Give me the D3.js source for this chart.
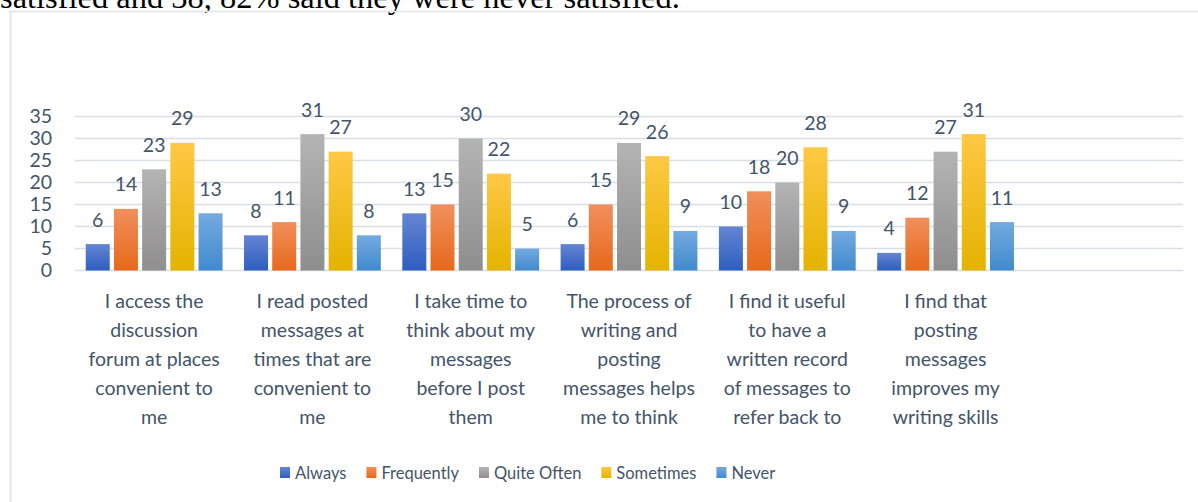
<!DOCTYPE html>
<html>
<head>
<meta charset="utf-8">
<script src="https://cdnjs.cloudflare.com/ajax/libs/d3/7.8.5/d3.min.js"></script>
<style>
  html, body { margin: 0; padding: 0; background: #fff; }
  svg { display: block; }
</style>
</head>
<body>
<div id="chart"></div>
<script>
var categories = [
  'I access the\ndiscussion\nforum at places\nconvenient to\nme',
  'I read posted\nmessages at\ntimes that are\nconvenient to\nme',
  'I take time to\nthink about my\nmessages\nbefore I post\nthem',
  'The process of\nwriting and\nposting\nmessages helps\nme to think',
  'I find it useful\nto have a\nwritten record\nof messages to\nrefer back to',
  'I find that\nposting\nmessages\nimproves my\nwriting skills'
];
var seriesNames = ['Always', 'Frequently', 'Quite Often', 'Sometimes', 'Never'];
var always     = [6, 8, 13, 6, 10, 4];
var frequently = [14, 11, 15, 15, 18, 12];
var quiteOften = [23, 31, 30, 29, 20, 27];
var sometimes  = [29, 27, 22, 26, 28, 31];
var never      = [13, 8, 5, 9, 9, 11];
var yTicks = [0, 5, 10, 15, 20, 25, 30, 35];
var headText = 'satisfied and 38, 82% said they were never satisfied.';

var seriesValues = [always, frequently, quiteOften, sometimes, never];
var gradTop    = ['#6585d3', '#f18f5c', '#b4b4b4', '#ffc845', '#74aae0'];
var gradBottom = ['#2e5ebf', '#e6691c', '#8e8e8e', '#e4b300', '#418acd'];

var W = 1198, H = 502;
var textColor = '#44546a';
var font = 'Lato, "Open Sans", sans-serif';

var svg = d3.select('#chart').append('svg').attr('width', W).attr('height', H);

// gradients
var defs = svg.append('defs');
seriesNames.forEach(function(s, i) {
  var g = defs.append('linearGradient').attr('id', 'g' + i)
    .attr('x1', 0).attr('y1', 0).attr('x2', 0).attr('y2', 1);
  g.append('stop').attr('offset', '0%').attr('stop-color', gradTop[i]);
  g.append('stop').attr('offset', '100%').attr('stop-color', gradBottom[i]);
});

// text of the page above the chart (cut at the top, as in the source)
var head = svg.append('text')
  .attr('x', 0).attr('y', 8)
  .attr('font-family', '"Liberation Serif", "Times New Roman", serif')
  .attr('font-size', 27)
  .attr('fill', '#000')
  .text(headText);
var hl = head.node().getComputedTextLength();
head.attr('font-size', 27 * 680 / hl);

// chart frame
svg.append('line').attr('x1', 9).attr('x2', W).attr('y1', 11.5).attr('y2', 11.5)
  .attr('stroke', '#dfe4ec').attr('stroke-width', 1.5);
svg.append('line').attr('x1', 10.5).attr('x2', 10.5).attr('y1', 11).attr('y2', H)
  .attr('stroke', '#dfe4ec').attr('stroke-width', 2);

var x0 = d3.scaleBand().domain(d3.range(categories.length + 1)).range([75, 1183]);
var x1 = d3.scaleBand().domain(seriesNames).range([0, x0.bandwidth()])
  .paddingInner(0.149).paddingOuter(0.381);
var y = d3.scaleLinear().domain([0, 35]).range([270.5, 116.5]);

// gridlines
svg.append('g').selectAll('line').data(yTicks).enter().append('line')
  .attr('x1', 75).attr('x2', 1183)
  .attr('y1', function(d) { return y(d); })
  .attr('y2', function(d) { return y(d); })
  .attr('stroke', '#d9dee6').attr('stroke-width', 1.6);

// y axis labels
var yAxis = svg.append('g').attr('transform', 'translate(58,0)')
  .call(d3.axisLeft(y).tickValues(yTicks).tickSize(0).tickPadding(6));
yAxis.select('.domain').remove();
yAxis.selectAll('text').attr('font-family', font).attr('font-size', 19.5)
  .attr('fill', textColor);

// bars
var groups = svg.append('g').selectAll('g').data(categories).enter().append('g')
  .attr('transform', function(d, i) { return 'translate(' + x0(i) + ',0)'; });

groups.each(function(c, ci) {
  var g = d3.select(this);
  var rows = seriesNames.map(function(s, si) { return { s: s, si: si, v: seriesValues[si][ci] }; });
  g.selectAll('rect').data(rows).enter().append('rect')
    .attr('x', function(d) { return x1(d.s); })
    .attr('y', function(d) { return y(d.v); })
    .attr('width', x1.bandwidth())
    .attr('height', function(d) { return y(0) - y(d.v); })
    .attr('fill', function(d) { return 'url(#g' + d.si + ')'; });
  g.selectAll('text.val').data(rows).enter().append('text')
    .attr('class', 'val')
    .attr('x', function(d) { return x1(d.s) + x1.bandwidth() / 2; })
    .attr('y', function(d) { return y(d.v) - 17.5; })
    .attr('text-anchor', 'middle')
    .attr('font-family', font).attr('font-size', 19.5)
    .attr('fill', textColor)
    .text(function(d) { return d.v; });
});

// category labels
var xl = svg.append('g').selectAll('text').data(categories).enter().append('text')
  .attr('text-anchor', 'middle')
  .attr('font-family', font).attr('font-size', 19.5)
  .attr('fill', textColor);
xl.each(function(c, i) {
  var t = d3.select(this);
  c.split('\n').forEach(function(line, li) {
    t.append('tspan')
      .attr('x', x0(i) + x0.bandwidth() / 2)
      .attr('y', 308 + li * 29)
      .text(line);
  });
});

// legend
var legend = svg.append('g');
var lx = 280;
seriesNames.forEach(function(s, i) {
  legend.append('rect').attr('x', lx).attr('y', 467).attr('width', 10).attr('height', 11)
    .attr('fill', 'url(#g' + i + ')');
  var t = legend.append('text').attr('x', lx + 15).attr('y', 479)
    .attr('font-family', font).attr('font-size', 16.5)
    .attr('fill', textColor).text(s);
  lx += 15 + t.node().getComputedTextLength() + 20;
});
</script>
</body>
</html>
